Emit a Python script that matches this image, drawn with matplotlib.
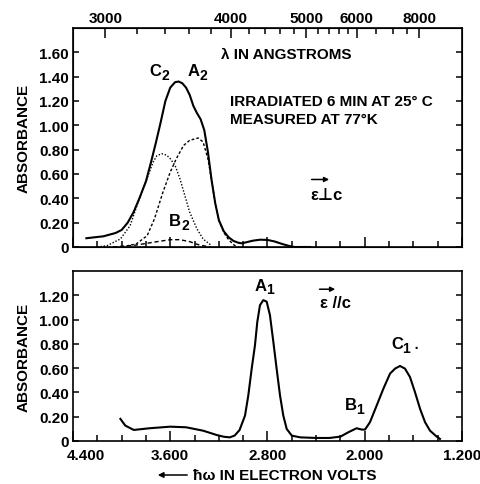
import numpy as np
import matplotlib as mpl
import matplotlib.pyplot as plt
from matplotlib.transforms import ScaledTranslation

plt.rcParams['font.family'] = ['Liberation Sans', 'DejaVu Sans']
plt.rcParams['font.weight'] = 'bold'
plt.rcParams['axes.labelweight'] = 'bold'

# ---- data (photon energy in eV, absorbance) ----
perp_e = [4.29, 4.15, 4.05, 4.00, 3.95, 3.90, 3.85, 3.80, 3.76, 3.72, 3.68, 3.64, 3.60, 3.56,
          3.53, 3.50, 3.47, 3.44, 3.41, 3.38, 3.35, 3.32, 3.29, 3.26, 3.23, 3.20, 3.16, 3.12,
          3.08, 3.04, 3.01, 2.97, 2.92, 2.86, 2.80, 2.74, 2.68, 2.62, 2.58, 2.45]
perp_a = [0.072, 0.088, 0.115, 0.14, 0.20, 0.29, 0.41, 0.54, 0.69, 0.85, 1.02, 1.20, 1.31, 1.355,
          1.36, 1.345, 1.31, 1.25, 1.16, 1.10, 1.05, 0.96, 0.78, 0.55, 0.36, 0.22, 0.13, 0.08,
          0.05, 0.035, 0.03, 0.04, 0.052, 0.06, 0.058, 0.045, 0.025, 0.008, 0.0, 0.0]

c2_e = [4.20, 4.12, 4.01, 3.93, 3.86, 3.81, 3.77, 3.74, 3.71, 3.67, 3.63, 3.60, 3.56, 3.52,
        3.48, 3.44, 3.38, 3.33, 3.26]
c2_a = [0.0, 0.011, 0.066, 0.176, 0.38, 0.51, 0.62, 0.70, 0.75, 0.767, 0.755, 0.726, 0.67, 0.56,
        0.423, 0.286, 0.148, 0.066, 0.011]

a2_e = [4.00, 3.88, 3.79, 3.73, 3.66, 3.60, 3.55, 3.49, 3.44, 3.37, 3.33, 3.29, 3.26, 3.23,
        3.20, 3.16, 3.12, 3.08, 3.05]
a2_a = [0.0, 0.025, 0.093, 0.231, 0.451, 0.616, 0.726, 0.835, 0.877, 0.896, 0.863, 0.726, 0.55, 0.36,
        0.22, 0.12, 0.06, 0.02, 0.0]

b2_e = [4.07, 3.88, 3.74, 3.60, 3.52, 3.44, 3.36, 3.27]
b2_a = [0.0, 0.016, 0.039, 0.06, 0.06, 0.044, 0.016, 0.0]

par_e = [4.01, 3.97, 3.90, 3.77, 3.60, 3.47, 3.33, 3.22, 3.16, 3.11, 3.07, 3.03, 2.985, 2.958,
         2.93, 2.903, 2.884, 2.862, 2.835, 2.807, 2.78, 2.752, 2.725, 2.697, 2.67, 2.642, 2.60,
         2.53, 2.40, 2.29, 2.20, 2.135, 2.067, 2.025, 1.998, 1.957, 1.902, 1.847, 1.792, 1.751,
         1.71, 1.669, 1.628, 1.587, 1.545, 1.504, 1.463, 1.408, 1.381]
par_a = [0.182, 0.127, 0.091, 0.105, 0.118, 0.113, 0.085, 0.05, 0.035, 0.03, 0.045, 0.09, 0.209, 0.375,
         0.596, 0.789, 0.98, 1.118, 1.16, 1.148, 1.037, 0.817, 0.596, 0.375, 0.209, 0.099, 0.044,
         0.03, 0.025, 0.025, 0.036, 0.072, 0.105, 0.094, 0.094, 0.155, 0.292, 0.43, 0.555, 0.596,
         0.618, 0.596, 0.527, 0.403, 0.265, 0.155, 0.085, 0.036, 0.017]

ev_major = [4.4, 3.6, 2.8, 2.0, 1.2]
ev_labels = ['4.400', '3.600', '2.800', '2.000', '1.200']
ev_minor = [4.2, 4.0, 3.8, 3.4, 3.2, 3.0, 2.6, 2.4, 2.2, 1.8, 1.6, 1.4]
lam_major = [3000, 4000, 5000, 6000, 8000]
lam_minor = [3200, 3400, 3600, 3800, 4200, 4400, 4600, 4800, 5200, 5400, 5600, 5800, 6500, 7000, 7500]
top_yticks = [0, 0.2, 0.4, 0.6, 0.8, 1.0, 1.2, 1.4, 1.6]
top_ylabels = ['0', '0.20', '0.40', '0.60', '0.80', '1.00', '1.20', '1.40', '1.60']
bot_yticks = [0, 0.2, 0.4, 0.6, 0.8, 1.0, 1.2]
bot_ylabels = ['0', '0.20', '0.40', '0.60', '0.80', '1.00', '1.20']
HC = 12398.4  # eV * Angstrom

fig = plt.figure(figsize=(4.81, 4.85), dpi=100)
W, H = 481., 485.
ax1 = fig.add_axes([73/W, 1-248/H, 389/W, 219/H])
ax2 = fig.add_axes([73/W, 1-442/H, 389/W, 170/H])
fs = 11


def peak_label(ax, x, y, main, sub, extra=''):
    # big letter with a large, slightly lowered subscript, as on the original
    ax.annotate(main, (x, y), xytext=(1, 0), textcoords='offset points',
                fontsize=fs+1, ha='right', va='center')
    ax.annotate(sub + extra, (x, y), xytext=(1, -3), textcoords='offset points',
                fontsize=fs-1, ha='left', va='center')


for ax in (ax1, ax2):
    ax.set_xlim(4.4, 1.2)
    for s in ax.spines.values():
        s.set_linewidth(1.2)
    ax.set_xticks(ev_major)
    ax.set_xticks(ev_minor, minor=True)
    ax.tick_params(axis='x', which='major', direction='in', length=7, width=1.1, top=False)
    ax.tick_params(axis='x', which='minor', direction='in', length=4.5, width=1.1, top=False)
    ax.tick_params(axis='y', direction='in', length=4.5, width=1.1, right=True, labelsize=fs, pad=3)
    ax.set_ylabel('ABSORBANCE', fontsize=fs)
    ax.yaxis.set_label_coords(-0.11, 0.5)

ax1.set_ylim(0, 1.80)
ax1.set_yticks(top_yticks, top_ylabels)
ax1.set_xticklabels([])
ax2.set_ylim(0, 1.40)
ax2.set_yticks(bot_yticks, bot_ylabels)
ax2.set_xticklabels(ev_labels, fontsize=fs)
ax2.tick_params(axis='x', pad=5)
lab0 = ax2.get_xticklabels()[0]
lab0.set_transform(lab0.get_transform() + ScaledTranslation(13/100, 0, fig.dpi_scale_trans))

# wavelength scale on top
axt = ax1.twiny()
axt.set_xlim(ax1.get_xlim())
axt.set_xticks([HC/l for l in lam_major], [str(l) for l in lam_major], fontsize=fs)
axt.set_xticks([HC/l for l in lam_minor], minor=True)
axt.tick_params(axis='x', which='major', direction='in', length=7, width=1.1, pad=2)
axt.tick_params(axis='x', which='minor', direction='in', length=4.5, width=1.1)

# curves
ax1.plot(perp_e, perp_a, '-', color='k', lw=1.5)
ax1.plot(c2_e, c2_a, color='k', lw=1.0, ls=(0, (1, 1.3)))
ax1.plot(a2_e, a2_a, color='k', lw=1.0, ls=(0, (2, 1.5)))
ax1.plot(b2_e, b2_a, color='k', lw=1.0, ls=(0, (3, 2)))
ax2.plot(par_e, par_a, '-', color='k', lw=1.5)

# annotations
ax1.text(2.648, 1.583, 'λ IN ANGSTROMS', fontsize=fs, ha='center', va='center')
peak_label(ax1, 3.684, 1.45, 'C', '2')
peak_label(ax1, 3.372, 1.45, 'A', '2')
ax1.text(3.109, 1.196, 'IRRADIATED 6 MIN AT 25° C', fontsize=fs, ha='left', va='center')
ax1.text(3.109, 1.056, 'MEASURED AT 77°K', fontsize=fs, ha='left', va='center')
ax1.text(2.45, 0.43, 'ε⊥c', fontsize=fs+1, ha='left', va='center')
ax1.annotate('', xy=(2.27, 0.555), xytext=(2.46, 0.555),
             arrowprops=dict(arrowstyle='-|>', color='k', lw=1.1, mutation_scale=7))
peak_label(ax1, 3.52, 0.214, 'B', '2')

peak_label(ax2, 2.82, 1.283, 'A', '1')
ax2.text(2.368, 1.142, 'ε //c', fontsize=fs+1, ha='left', va='center')
ax2.annotate('', xy=(2.22, 1.25), xytext=(2.395, 1.25),
             arrowprops=dict(arrowstyle='-|>', color='k', lw=1.1, mutation_scale=7))
peak_label(ax2, 1.694, 0.803, 'C', '1', ' ·')
peak_label(ax2, 2.08, 0.298, 'B', '1')

fig.text(193/W, 1-476/H, 'ħω IN ELECTRON VOLTS', fontsize=fs, ha='left', va='center')
fig.patches.append(mpl.patches.FancyArrowPatch((190/W, 1-476/H), (155/W, 1-476/H),
                   transform=fig.transFigure, arrowstyle='-|>', mutation_scale=8, lw=1.1, color='k'))

fig.savefig('out.png', dpi=100)
